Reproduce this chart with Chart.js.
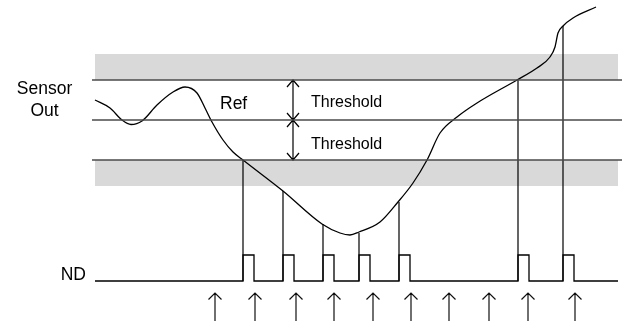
<!DOCTYPE html>
<html lang="en">
<head>
    <meta charset="UTF-8">
    <title>Sensor Out / ND timing</title>
    <script src="https://cdn.jsdelivr.net/npm/chart.js"></script>
    <style>
        body {
            margin: 0;
            padding: 0;
            background: #fff;
        }
        #wrap {
            width: 628px;
            height: 321px;
        }
    </style>
</head>
<body>
    <div id="wrap"><canvas id="timing" width="628" height="321"></canvas></div>

    <script>
        // time axis runs 0..628, level axis 0..321 (top down)
        const curveT = [95, 110, 122, 131, 142, 157, 173, 185, 197, 205, 212, 223, 233, 243, 283, 322, 340, 350, 359, 380, 398, 413, 427, 440, 457, 477, 517, 537, 550, 555, 558, 563, 573, 596];
        const curveV = [100, 108, 120, 124.5, 121, 105, 92, 87, 93, 108, 122, 140, 152, 160, 191, 224, 233, 235, 232, 222, 202, 183, 160, 133, 117, 103, 80, 68, 57, 47, 33, 26, 18, 7];

        const levelUpper = 80;
        const levelRef = 120;
        const levelLower = 160;
        const bandDepth = 26;

        const pulseStart = [243, 283, 323, 359, 399, 518, 563];
        const triggerLevel = [160, 191, 224, 233, 202, 80, 26];
        const pulseWidth = 11;
        const ndLow = 281;
        const ndHigh = 255;

        const sampleT = [215, 255, 296, 334, 373, 411, 449, 489, 528, 575];

        const labels = [
            { text: 'Sensor', t: 44.5, v: 89, size: 17.5, align: 'center' },
            { text: 'Out', t: 44.5, v: 111, size: 17.5, align: 'center' },
            { text: 'Ref', t: 220, v: 104, size: 17.5, align: 'left' },
            { text: 'Threshold', t: 311, v: 103, size: 16, align: 'left' },
            { text: 'Threshold', t: 311, v: 145, size: 16, align: 'left' },
            { text: 'ND', t: 86, v: 275, size: 17.5, align: 'right' }
        ];

        const lineLeft = 92, lineRight = 622, bandLeft = 95, bandRight = 618;
        const ink = '#000';
        const gridInk = '#4a4a4a';

        // build line pieces
        function hLine(v) {
            return [{ x: lineLeft, y: v }, { x: lineRight, y: v }];
        }

        const ndPts = [{ x: bandLeft, y: ndLow }];
        pulseStart.forEach(function (s) {
            ndPts.push({ x: s, y: ndLow }, { x: s, y: ndHigh }, { x: s + pulseWidth, y: ndHigh }, { x: s + pulseWidth, y: ndLow });
        });
        ndPts.push({ x: bandRight, y: ndLow });

        const triggerPts = [];
        pulseStart.forEach(function (s, i) {
            triggerPts.push({ x: s, y: triggerLevel[i] }, { x: s, y: ndLow }, { x: s, y: null });
        });

        const arrowPts = [];
        sampleT.forEach(function (t) {
            arrowPts.push({ x: t, y: 321 }, { x: t, y: 293 }, { x: t, y: null });
            arrowPts.push({ x: t - 6.5, y: 299.5 }, { x: t, y: 293 }, { x: t + 6.5, y: 299.5 }, { x: t, y: null });
        });

        // double headed arrows between the levels
        const gapT = 293;
        const dimPts = [];
        [[levelUpper, levelRef], [levelRef, levelLower]].forEach(function (p) {
            const a = p[0], b = p[1];
            dimPts.push({ x: gapT, y: a }, { x: gapT, y: b }, { x: gapT, y: null });
            dimPts.push({ x: gapT - 6, y: a + 7 }, { x: gapT, y: a }, { x: gapT + 6, y: a + 7 }, { x: gapT, y: null });
            dimPts.push({ x: gapT - 6, y: b - 7 }, { x: gapT, y: b }, { x: gapT + 6, y: b - 7 }, { x: gapT, y: null });
        });

        const bandPlugin = {
            id: 'bands',
            beforeDatasetsDraw(chart) {
                const c = chart.ctx, xs = chart.scales.x, ys = chart.scales.y;
                c.save();
                c.fillStyle = '#d9d9d9';
                const x0 = xs.getPixelForValue(bandLeft), x1 = xs.getPixelForValue(bandRight);
                [[levelUpper - bandDepth, levelUpper], [levelLower, levelLower + bandDepth]].forEach(function (b) {
                    const y0 = ys.getPixelForValue(b[0]), y1 = ys.getPixelForValue(b[1]);
                    c.fillRect(x0, y0, x1 - x0, y1 - y0);
                });
                c.restore();
            }
        };

        const textPlugin = {
            id: 'texts',
            afterDatasetsDraw(chart) {
                const c = chart.ctx, xs = chart.scales.x, ys = chart.scales.y;
                c.save();
                c.fillStyle = '#000';
                c.textBaseline = 'middle';
                labels.forEach(function (l) {
                    c.font = l.size + 'px "Liberation Sans", Arial, sans-serif';
                    c.textAlign = l.align;
                    c.fillText(l.text, xs.getPixelForValue(l.t), ys.getPixelForValue(l.v));
                });
                c.restore();
            }
        };

        function seg(data, color, width) {
            return {
                data: data,
                showLine: true,
                borderColor: color,
                borderWidth: width,
                pointRadius: 0,
                tension: 0,
                spanGaps: false,
                fill: false
            };
        }

        const curveSet = seg(curveT.map(function (t, i) { return { x: t, y: curveV[i] }; }), ink, 1.3);
        curveSet.cubicInterpolationMode = 'monotone';

        new Chart(document.getElementById('timing'), {
            type: 'scatter',
            data: {
                datasets: [
                    seg(hLine(levelUpper), gridInk, 1.5),
                    seg(hLine(levelRef), gridInk, 1.5),
                    seg(hLine(levelLower), gridInk, 1.5),
                    seg(triggerPts, ink, 1.2),
                    seg(ndPts, ink, 1.3),
                    seg(arrowPts, '#111', 1.2),
                    seg(dimPts, ink, 1.2),
                    curveSet
                ]
            },
            options: {
                responsive: false,
                animation: false,
                devicePixelRatio: 1,
                layout: { padding: 0 },
                plugins: {
                    legend: { display: false },
                    tooltip: { enabled: false }
                },
                scales: {
                    x: { type: 'linear', min: 0, max: 628, display: false },
                    y: { type: 'linear', min: 0, max: 321, reverse: true, display: false }
                }
            },
            plugins: [bandPlugin, textPlugin]
        });
    </script>
</body>
</html>
